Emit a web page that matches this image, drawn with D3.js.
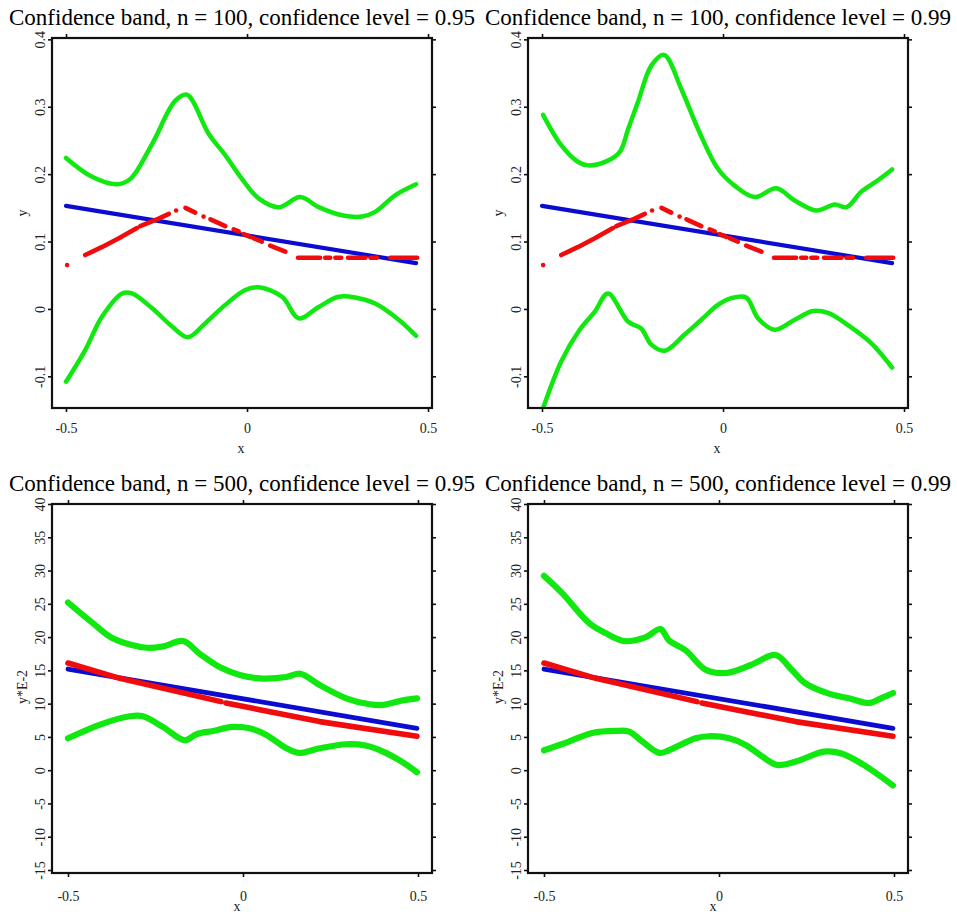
<!DOCTYPE html>
<html>
<head>
<meta charset="utf-8">
<script src="https://cdn.jsdelivr.net/npm/d3@7"></script>
<style>
  body { margin: 0; background: #fff; }
  svg { display: block; }
</style>
</head>
<body>
<script>
// tick labels and titles
const xTicks = [-0.5, 0, 0.5];
const yTicksTop = [-0.1, 0, 0.1, 0.2, 0.3, 0.4];
const yTicksBottom = [-15, -10, -5, 0, 5, 10, 15, 20, 25, 30, 35, 40];
const titles = [
  "Confidence band, n = 100, confidence level = 0.95",
  "Confidence band, n = 100, confidence level = 0.99",
  "Confidence band, n = 500, confidence level = 0.95",
  "Confidence band, n = 500, confidence level = 0.99"
];

// n = 100: fitted line (blue) and true curve (red, drawn as broken dot runs)
const blueTop = [[-0.5, 0.153], [0.467, 0.068]];
const redTop = [
  [[-0.497, 0.065]],
  [[-0.447, 0.080], [-0.40, 0.092], [-0.354, 0.105], [-0.304, 0.120]],
  [[-0.295, 0.123], [-0.244, 0.134], [-0.216, 0.141]],
  [[-0.196, 0.146]],
  [[-0.170, 0.150], [-0.143, 0.143]],
  [[-0.120, 0.137]],
  [[-0.101, 0.133], [-0.060, 0.123]],
  [[-0.037, 0.118], [-0.023, 0.115]],
  [[-0.009, 0.111], [0.009, 0.107]],
  [[0.018, 0.105], [0.041, 0.100]],
  [[0.064, 0.094], [0.106, 0.085]],
  [[0.141, 0.076], [0.202, 0.076]],
  [[0.216, 0.076], [0.230, 0.076]],
  [[0.244, 0.076], [0.260, 0.076]],
  [[0.279, 0.076], [0.327, 0.076]],
  [[0.341, 0.076], [0.359, 0.076]],
  [[0.396, 0.076], [0.470, 0.076]]
];

// n = 100 bands
const upper100_95 = [[-0.5, 0.224], [-0.428, 0.196], [-0.359, 0.185], [-0.322, 0.193], [-0.262, 0.245],
  [-0.198, 0.309], [-0.166, 0.318], [-0.106, 0.260], [-0.06, 0.228], [-0.014, 0.193], [0.032, 0.164],
  [0.088, 0.151], [0.147, 0.166], [0.198, 0.151], [0.262, 0.139], [0.318, 0.137], [0.354, 0.144],
  [0.41, 0.169], [0.467, 0.185]];
const lower100_95 = [[-0.5, -0.108], [-0.447, -0.061], [-0.40, -0.011], [-0.345, 0.023], [-0.318, 0.023],
  [-0.262, 0.001], [-0.207, -0.026], [-0.163, -0.042], [-0.115, -0.021], [-0.06, 0.006], [-0.005, 0.028],
  [0.032, 0.032], [0.097, 0.018], [0.143, -0.014], [0.198, 0.003], [0.253, 0.018], [0.299, 0.017],
  [0.354, 0.008], [0.419, -0.016], [0.467, -0.040]];
const upper100_99 = [[-0.497, 0.288], [-0.447, 0.243], [-0.40, 0.218], [-0.373, 0.213], [-0.318, 0.220],
  [-0.285, 0.233], [-0.262, 0.267], [-0.235, 0.307], [-0.198, 0.361], [-0.163, 0.377], [-0.115, 0.326],
  [-0.069, 0.267], [-0.014, 0.208], [0.032, 0.183], [0.088, 0.166], [0.147, 0.179], [0.198, 0.161],
  [0.258, 0.146], [0.309, 0.155], [0.341, 0.151], [0.382, 0.174], [0.428, 0.191], [0.467, 0.207]];
const lower100_99 = [[-0.5, -0.152], [-0.447, -0.078], [-0.396, -0.031], [-0.354, -0.004], [-0.318, 0.023],
  [-0.262, -0.019], [-0.226, -0.029], [-0.198, -0.053], [-0.161, -0.062], [-0.106, -0.038], [-0.06, -0.016],
  [-0.014, 0.006], [0.023, 0.016], [0.064, 0.017], [0.097, -0.014], [0.143, -0.031], [0.198, -0.016],
  [0.249, -0.003], [0.29, -0.006], [0.345, -0.024], [0.41, -0.051], [0.467, -0.087]];

// n = 500 (values in units of 1E-2)
const blueBottom = [[-0.5, 15.2], [0.497, 6.3]];
const redBottom = [
  [[-0.5, 16.1], [-0.352, 13.8], [-0.063, 10.3]],
  [[-0.049, 10.1], [0.219, 7.3], [0.497, 5.1]]
];
const upper500_95 = [[-0.5, 25.2], [-0.429, 22.1], [-0.371, 19.8], [-0.276, 18.4], [-0.229, 18.6],
  [-0.171, 19.4], [-0.124, 17.5], [-0.067, 15.5], [-0.009, 14.3], [0.048, 13.8], [0.124, 14.0],
  [0.164, 14.5], [0.219, 12.8], [0.295, 10.8], [0.362, 9.9], [0.40, 9.8], [0.457, 10.5], [0.497, 10.8]];
const lower500_95 = [[-0.5, 4.8], [-0.4, 7.0], [-0.324, 8.1], [-0.286, 8.1], [-0.229, 6.5], [-0.167, 4.5],
  [-0.133, 5.4], [-0.086, 5.9], [-0.029, 6.5], [0.019, 6.3], [0.067, 5.3], [0.124, 3.3], [0.16, 2.6],
  [0.22, 3.3], [0.295, 3.9], [0.35, 3.7], [0.40, 2.8], [0.45, 1.4], [0.497, -0.3]];
const upper500_99 = [[-0.5, 29.2], [-0.448, 26.6], [-0.371, 22.1], [-0.324, 20.6], [-0.271, 19.4],
  [-0.209, 20.0], [-0.167, 21.2], [-0.143, 19.5], [-0.095, 18.0], [-0.038, 15.1], [0.019, 14.6],
  [0.091, 15.8], [0.162, 17.3], [0.209, 15.0], [0.248, 13.0], [0.314, 11.5], [0.371, 10.8],
  [0.429, 10.1], [0.467, 10.9], [0.497, 11.6]];
const lower500_99 = [[-0.5, 3.0], [-0.429, 4.3], [-0.362, 5.6], [-0.295, 5.9], [-0.257, 5.8], [-0.219, 4.3],
  [-0.17, 2.6], [-0.143, 3.0], [-0.067, 4.8], [-0.029, 5.1], [0.029, 4.8], [0.076, 3.8], [0.12, 2.2],
  [0.165, 0.8], [0.22, 1.3], [0.3, 2.8], [0.35, 2.5], [0.41, 0.9], [0.497, -2.3]];

const serif = '"Liberation Serif", "Times New Roman", "DejaVu Serif", serif';
const green = "#10e810", red = "#f00c0c", blue = "#0c0cd0";

const svg = d3.select("body").append("svg")
    .attr("width", 957)
    .attr("height", 917);
svg.append("rect").attr("width", 957).attr("height", 917).attr("fill", "#fff");
const defs = svg.append("defs");

const pw = 380;
const topRow = { xDomain: [-0.5387, 0.511], yDomain: [-0.147, 0.402], yTicks: yTicksTop, h: 370,
  yLabel: "y", yLabelY: 175, tickLabelY: 25, xLabelY: 45, blue: blueTop, red: redTop, lw: [4.5, 4.2, 4.6] };
const botRow = { xDomain: [-0.5457, 0.54], yDomain: [-15.45, 40], yTicks: yTicksBottom, h: 369,
  yLabel: "y*E-2", yLabelY: 183, tickLabelY: 28, xLabelY: 38, blue: blueBottom, red: redBottom, lw: [6.2, 4.8, 5.6] };

const panels = [
  { ...topRow, left: 52, top: 38, title: titles[0], bands: [upper100_95, lower100_95] },
  { ...topRow, left: 528, top: 38, title: titles[1], bands: [upper100_99, lower100_99] },
  { ...botRow, left: 52, top: 504, title: titles[2], bands: [upper500_95, lower500_95] },
  { ...botRow, left: 528, top: 504, title: titles[3], bands: [upper500_99, lower500_99] }
];

panels.forEach((p, i) => {
  const g = svg.append("g").attr("transform", `translate(${p.left},${p.top})`);
  const x = d3.scaleLinear().domain(p.xDomain).range([0, pw]);
  const y = d3.scaleLinear().domain(p.yDomain).range([p.h, 0]);
  const line = d3.line().x(d => x(d[0])).y(d => y(d[1]));
  const smooth = d3.line().x(d => x(d[0])).y(d => y(d[1])).curve(d3.curveCatmullRom.alpha(0.5));

  defs.append("clipPath").attr("id", `clip${i}`)
    .append("rect").attr("width", pw).attr("height", p.h);
  const plot = g.append("g").attr("clip-path", `url(#clip${i})`);

  // green band
  plot.selectAll("path.band")
    .data(p.bands)
    .join("path")
      .attr("class", "band")
      .attr("d", smooth)
      .attr("fill", "none")
      .attr("stroke", green)
      .attr("stroke-width", p.lw[0])
      .attr("stroke-linejoin", "round")
      .attr("stroke-linecap", "round");

  // blue fitted line
  plot.append("path")
    .attr("d", line(p.blue))
    .attr("fill", "none")
    .attr("stroke", blue)
    .attr("stroke-width", p.lw[1])
    .attr("stroke-linecap", "round");

  // red runs + single dots
  plot.selectAll("path.red")
    .data(p.red.filter(s => s.length > 1))
    .join("path")
      .attr("class", "red")
      .attr("d", line)
      .attr("fill", "none")
      .attr("stroke", red)
      .attr("stroke-width", p.lw[2])
      .attr("stroke-linejoin", "round")
      .attr("stroke-linecap", "round");
  plot.selectAll("circle.red")
    .data(p.red.filter(s => s.length === 1).map(s => s[0]))
    .join("circle")
      .attr("class", "red")
      .attr("cx", d => x(d[0]))
      .attr("cy", d => y(d[1]))
      .attr("r", p.lw[2] / 2)
      .attr("fill", red);

  // axes on all four sides, ticks outward
  const styleAxis = a => {
    a.select(".domain").remove();
    a.attr("color", "#111").attr("font-family", serif).attr("font-size", 14);
    a.selectAll("line").attr("stroke-width", 1.6);
    a.selectAll("text").attr("fill", "#222");
  };
  g.append("g")
    .attr("transform", `translate(0,${p.h})`)
    .call(d3.axisBottom(x).tickValues(xTicks).tickSize(4).tickSizeOuter(0).tickFormat(d => String(d)))
    .call(styleAxis)
    .call(a => a.selectAll("text").attr("y", p.tickLabelY).attr("dy", 0));
  g.append("g")
    .call(d3.axisTop(x).tickValues(xTicks).tickSize(4).tickSizeOuter(0).tickFormat(""))
    .call(styleAxis);
  g.append("g")
    .call(d3.axisLeft(y).tickValues(p.yTicks).tickSize(4).tickSizeOuter(0).tickFormat(d => String(d)))
    .call(styleAxis)
    .call(a => a.selectAll("text")
      .attr("x", 0).attr("y", -7).attr("dy", 0)
      .attr("text-anchor", "middle")
      .attr("transform", "rotate(-90)"));
  g.append("g")
    .attr("transform", `translate(${pw},0)`)
    .call(d3.axisRight(y).tickValues(p.yTicks).tickSize(4).tickSizeOuter(0).tickFormat(""))
    .call(styleAxis);

  // frame
  g.append("rect")
    .attr("width", pw)
    .attr("height", p.h)
    .attr("fill", "none")
    .attr("stroke", "#111")
    .attr("stroke-width", 2.2);

  // labels
  g.append("text")
    .attr("x", pw / 2)
    .attr("y", -13)
    .attr("text-anchor", "middle")
    .style("font-family", serif)
    .style("font-size", "23px")
    .text(p.title);
  g.append("text")
    .attr("x", x(0) - 6)
    .attr("y", p.h + p.xLabelY)
    .attr("text-anchor", "middle")
    .style("font-family", serif)
    .style("font-size", "14px")
    .attr("fill", "#222")
    .text("x");
  g.append("text")
    .attr("transform", `translate(-25,${p.yLabelY}) rotate(-90)`)
    .attr("text-anchor", "middle")
    .style("font-family", serif)
    .style("font-size", "14px")
    .attr("fill", "#222")
    .text(p.yLabel);
});
</script>
</body>
</html>
